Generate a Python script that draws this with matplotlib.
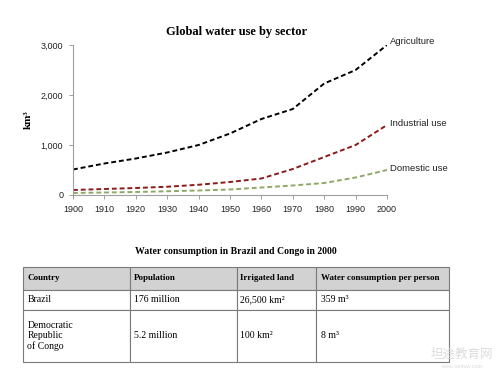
import matplotlib
matplotlib.use("Agg")
import matplotlib.pyplot as plt

years = [1900, 1910, 1920, 1930, 1940, 1950, 1960, 1970, 1980, 1990, 2000]
agriculture = [510, 630, 730, 850, 1000, 1230, 1520, 1720, 2230, 2500, 3000]
industrial = [100, 120, 140, 165, 205, 260, 330, 520, 760, 1000, 1400]
domestic = [40, 50, 60, 75, 90, 110, 150, 190, 240, 350, 500]
series_labels = ["Agriculture", "Industrial use", "Domestic use"]
yticks = [0, 1000, 2000, 3000]
ytick_labels = ["0", "1,000", "2,000", "3,000"]

table_title = "Water consumption in Brazil and Congo in 2000"
col_labels = ["Country", "Population", "Irrigated land", "Water consumption per person"]
rows = [
    ["Brazil", "176 million", "26,500 km²", "359 m³"],
    ["Democratic\nRepublic\nof Congo", "5.2 million", "100 km²", "8 m³"],
]

serif = ["Liberation Serif", "DejaVu Serif"]
sans = ["Liberation Sans", "DejaVu Sans"]

fig = plt.figure(figsize=(5.0, 3.72), dpi=100)
fig.patch.set_facecolor("white")

W, H = 500, 372
ax = fig.add_axes([73 / W, 1 - 195 / H, (387 - 73) / W, 150 / H])
colors = ["#000000", "#8b1a1a", "#8fa86a"]
offsets = [60, 20, 30]
for vals, c, lab, off in zip([agriculture, industrial, domestic], colors, series_labels, offsets):
    ax.plot(years, vals, color=c, lw=1.4, ls=(0, (2.5, 1.5)))
    ax.text(years[-1] + 1, vals[-1] + off, lab, fontsize=6.8, family=sans,
            ha="left", va="center", color="#222222", clip_on=False)

ax.set_xlim(1900, 2000)
ax.set_ylim(0, 3000)
ax.set_xticks(years)
ax.set_xticklabels([str(y) for y in years], family=sans, fontsize=6.5)
ax.set_yticks(yticks)
ax.set_yticklabels(ytick_labels, family=sans, fontsize=6.5)
for s in ["top", "right"]:
    ax.spines[s].set_visible(False)
for s in ["left", "bottom"]:
    ax.spines[s].set_color("#a0a0a0")
    ax.spines[s].set_linewidth(0.8)
ax.tick_params(axis="both", length=3, width=0.7, color="#a0a0a0", pad=4, labelcolor="#222222")
ax.set_ylabel("km³", family=serif, fontweight="bold", fontsize=8, labelpad=6)

fig.text(237 / W, 1 - 32 / H, "Global water use by sector", family=serif,
         fontweight="bold", fontsize=9, ha="center", va="center")
fig.text(236 / W, 1 - 251 / H, table_title, family=serif,
         fontweight="bold", fontsize=7, ha="center", va="center")

tax = fig.add_axes([0, 0, 1, 1])
tax.set_xlim(0, 1)
tax.set_ylim(0, 1)
tax.axis("off")

col_widths = [107, 107, 79, 133]
total = sum(col_widths)
tbl = tax.table(cellText=rows, colLabels=col_labels,
                colWidths=[w / total for w in col_widths],
                cellLoc="left", colLoc="left",
                bbox=[23 / W, 1 - 362 / H, 426 / W, 95 / H])
tbl.auto_set_font_size(False)
row_h = [23 / 95, 20 / 95, 52 / 95]
for (r, c), cell in tbl.get_celld().items():
    cell.set_edgecolor("#7a7a7a")
    cell.set_linewidth(0.8)
    cell.set_height(row_h[r])
    cell.PAD = 0.04
    t = cell.get_text()
    t.set_family(serif)
    if r == 0:
        cell.set_facecolor("#d2d2d2")
        t.set_fontweight("bold")
        t.set_fontsize(6.5)
    else:
        cell.set_facecolor("white")
        t.set_fontsize(7)

fig.text(462 / W, 1 - 354 / H, "坦途教育网", family=["Noto Sans CJK SC"],
         fontsize=9, color="#dcdcdc", ha="center", va="center")
fig.text(462 / W, 1 - 366 / H, "www.tantuw.com", family=sans,
         fontsize=4, color="#dcdcdc", ha="center", va="center")

fig.savefig("out.png", dpi=100)
